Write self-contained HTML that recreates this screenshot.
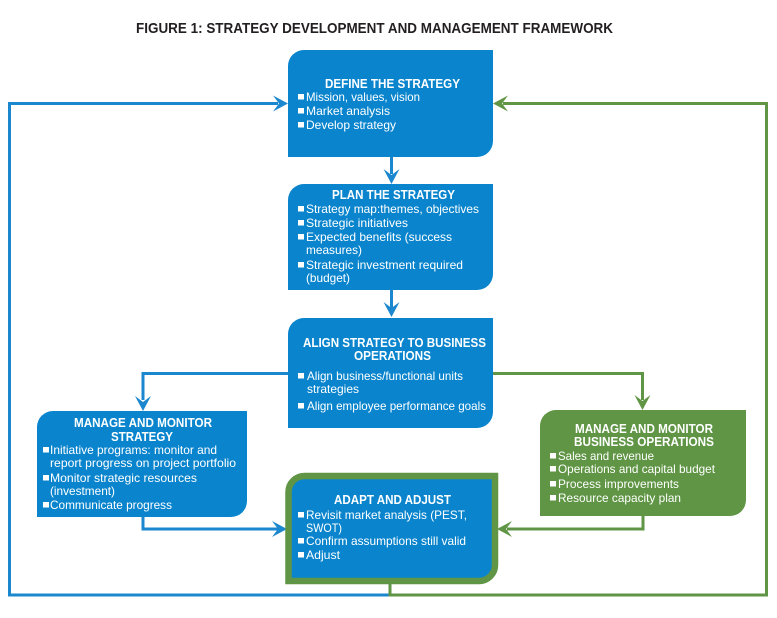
<!DOCTYPE html>
<html><head><meta charset="utf-8"><style>
html,body{margin:0;padding:0;background:#fff;}
svg{display:block;}
text{font-family:"Liberation Sans Narrow","Liberation Sans",sans-serif;}
.t{fill:#fff;font-weight:bold;font-size:12.5px;}
.b{fill:#fff;font-size:12px;}
.h{fill:#231f20;font-weight:bold;font-size:15px;}
.bl{fill:#fff;}
</style></head><body>
<svg width="777" height="618" viewBox="0 0 777 618" xmlns="http://www.w3.org/2000/svg">
<text class="h" x="136" y="33" textLength="477" lengthAdjust="spacingAndGlyphs">FIGURE 1: STRATEGY DEVELOPMENT AND MANAGEMENT FRAMEWORK</text>

<!-- connectors -->
<g fill="none" stroke-width="3" stroke-linejoin="miter">
  <polyline points="390,595 9.5,595 9.5,103.5 278,103.5" stroke="#1b87cf"/>
  <polyline points="390,582 390,595 766.5,595 766.5,103.5 503,103.5" stroke="#5f9544"/>
  <line x1="391.5" y1="156" x2="391.5" y2="174" stroke="#1b87cf"/>
  <line x1="391.5" y1="289" x2="391.5" y2="308" stroke="#1b87cf"/>
  <polyline points="290,373.5 143,373.5 143,400" stroke="#1b87cf"/>
  <polyline points="492,373.5 642.5,373.5 642.5,400" stroke="#5f9544"/>
  <polyline points="143,515 143,529 278,529" stroke="#1b87cf"/>
  <polyline points="643,514 643,529 507,529" stroke="#5f9544"/>
</g>
<g stroke="none">
  <!-- into define from left (blue) -->
  <polygon points="288,103.5 273,95.5 279,103.5 273,111.5" fill="#1b87cf"/>
  <!-- into define from right (green) -->
  <polygon points="493,103.5 508,95.5 502,103.5 508,111.5" fill="#5f9544"/>
  <!-- define -> plan -->
  <polygon points="391.5,184 383.5,169 391.5,175 399.5,169" fill="#1b87cf"/>
  <!-- plan -> align -->
  <polygon points="391.5,317 383.5,302 391.5,308 399.5,302" fill="#1b87cf"/>
  <!-- align -> manage strategy -->
  <polygon points="143,411 135,396 143,402 151,396" fill="#1b87cf"/>
  <!-- align -> manage business -->
  <polygon points="642.5,410 634.5,395 642.5,401 650.5,395" fill="#5f9544"/>
  <!-- manage strategy -> adapt -->
  <polygon points="287,529 272,521 278,529 272,537" fill="#1b87cf"/>
  <!-- manage business -> adapt -->
  <polygon points="497,529 512,521 506,529 512,537" fill="#5f9544"/>
</g>

<!-- boxes -->
<path d="M288,66 A16,16 0 0 1 304,50 L493,50 L493,141 A16,16 0 0 1 477,157 L288,157 Z" fill="#0a85cd"/>
<path d="M288,200 A16,16 0 0 1 304,184 L493,184 L493,274 A16,16 0 0 1 477,290 L288,290 Z" fill="#0a85cd"/>
<path d="M288,334 A16,16 0 0 1 304,318 L493,318 L493,412 A16,16 0 0 1 477,428 L288,428 Z" fill="#0a85cd"/>
<path d="M37,427 A16,16 0 0 1 53,411 L247,411 L247,501 A16,16 0 0 1 231,517 L37,517 Z" fill="#0a85cd"/>
<path d="M540,426 A16,16 0 0 1 556,410 L746,410 L746,500 A16,16 0 0 1 730,516 L540,516 Z" fill="#5f9544"/>
<path d="M288.5,492 A16,16 0 0 1 304.5,476 L495,476 L495,565 A16,16 0 0 1 479,581 L288.5,581 Z" fill="#0a85cd" stroke="#5f9544" stroke-width="6.5"/>

<!-- DEFINE -->
<text class="t" x="325" y="88" textLength="135" lengthAdjust="spacingAndGlyphs">DEFINE THE STRATEGY</text>
<rect class="bl" x="298" y="94" width="6" height="5.5"/>
<text class="b" x="306" y="101" textLength="114" lengthAdjust="spacingAndGlyphs">Mission, values, vision</text>
<rect class="bl" x="298" y="108" width="6" height="5.5"/>
<text class="b" x="306" y="115" textLength="84" lengthAdjust="spacingAndGlyphs">Market analysis</text>
<rect class="bl" x="298" y="122" width="6" height="5.5"/>
<text class="b" x="306" y="129" textLength="90" lengthAdjust="spacingAndGlyphs">Develop strategy</text>

<!-- PLAN -->
<text class="t" x="332" y="199" textLength="123" lengthAdjust="spacingAndGlyphs">PLAN THE STRATEGY</text>
<rect class="bl" x="298" y="206" width="6" height="5.5"/>
<text class="b" x="306" y="213" textLength="173" lengthAdjust="spacingAndGlyphs">Strategy map:themes, objectives</text>
<rect class="bl" x="298" y="220" width="6" height="5.5"/>
<text class="b" x="306" y="227" textLength="102" lengthAdjust="spacingAndGlyphs">Strategic initiatives</text>
<rect class="bl" x="298" y="234" width="6" height="5.5"/>
<text class="b" x="306" y="241" textLength="146" lengthAdjust="spacingAndGlyphs">Expected benefits (success</text>
<text class="b" x="306" y="254" textLength="56" lengthAdjust="spacingAndGlyphs">measures)</text>
<rect class="bl" x="298" y="262" width="6" height="5.5"/>
<text class="b" x="306" y="269" textLength="157" lengthAdjust="spacingAndGlyphs">Strategic investment required</text>
<text class="b" x="306" y="282" textLength="44" lengthAdjust="spacingAndGlyphs">(budget)</text>

<!-- ALIGN -->
<text class="t" x="303" y="347" textLength="183" lengthAdjust="spacingAndGlyphs">ALIGN STRATEGY TO BUSINESS</text>
<text class="t" x="354" y="360" textLength="77" lengthAdjust="spacingAndGlyphs">OPERATIONS</text>
<rect class="bl" x="298" y="373" width="6" height="5.5"/>
<text class="b" x="307" y="380" textLength="156" lengthAdjust="spacingAndGlyphs">Align business/functional units</text>
<text class="b" x="307" y="393" textLength="52" lengthAdjust="spacingAndGlyphs">strategies</text>
<rect class="bl" x="298" y="403" width="6" height="5.5"/>
<text class="b" x="307" y="410" textLength="179" lengthAdjust="spacingAndGlyphs">Align employee performance goals</text>

<!-- MANAGE STRATEGY -->
<text class="t" x="74" y="427" textLength="138" lengthAdjust="spacingAndGlyphs">MANAGE AND MONITOR</text>
<text class="t" x="111" y="441" textLength="62" lengthAdjust="spacingAndGlyphs">STRATEGY</text>
<rect class="bl" x="43" y="447" width="6" height="5.5"/>
<text class="b" x="50" y="454" textLength="167" lengthAdjust="spacingAndGlyphs">Initiative programs: monitor and</text>
<text class="b" x="50" y="467" textLength="186" lengthAdjust="spacingAndGlyphs">report progress on project portfolio</text>
<rect class="bl" x="43" y="475" width="6" height="5.5"/>
<text class="b" x="50" y="482" textLength="147" lengthAdjust="spacingAndGlyphs">Monitor strategic resources</text>
<text class="b" x="50" y="495" textLength="65" lengthAdjust="spacingAndGlyphs">(investment)</text>
<rect class="bl" x="43" y="502" width="6" height="5.5"/>
<text class="b" x="50" y="509" textLength="122" lengthAdjust="spacingAndGlyphs">Communicate progress</text>

<!-- MANAGE BUSINESS -->
<text class="t" x="575" y="433" textLength="138" lengthAdjust="spacingAndGlyphs">MANAGE AND MONITOR</text>
<text class="t" x="574" y="446" textLength="140" lengthAdjust="spacingAndGlyphs">BUSINESS OPERATIONS</text>
<rect class="bl" x="550" y="453" width="6" height="5.5"/>
<text class="b" x="558" y="460" textLength="96" lengthAdjust="spacingAndGlyphs">Sales and revenue</text>
<rect class="bl" x="550" y="466" width="6" height="5.5"/>
<text class="b" x="558" y="473" textLength="157" lengthAdjust="spacingAndGlyphs">Operations and capital budget</text>
<rect class="bl" x="550" y="481" width="6" height="5.5"/>
<text class="b" x="558" y="488" textLength="121" lengthAdjust="spacingAndGlyphs">Process improvements</text>
<rect class="bl" x="550" y="495" width="6" height="5.5"/>
<text class="b" x="558" y="502" textLength="123" lengthAdjust="spacingAndGlyphs">Resource capacity plan</text>

<!-- ADAPT -->
<text class="t" x="334" y="504" textLength="117" lengthAdjust="spacingAndGlyphs">ADAPT AND ADJUST</text>
<rect class="bl" x="298" y="512" width="6" height="5.5"/>
<text class="b" x="306" y="519" textLength="161" lengthAdjust="spacingAndGlyphs">Revisit market analysis (PEST,</text>
<text class="b" x="306" y="532" textLength="36" lengthAdjust="spacingAndGlyphs">SWOT)</text>
<rect class="bl" x="298" y="538" width="6" height="5.5"/>
<text class="b" x="306" y="545" textLength="160" lengthAdjust="spacingAndGlyphs">Confirm assumptions still valid</text>
<rect class="bl" x="298" y="552" width="6" height="5.5"/>
<text class="b" x="306" y="559" textLength="34" lengthAdjust="spacingAndGlyphs">Adjust</text>
</svg>
</body></html>
